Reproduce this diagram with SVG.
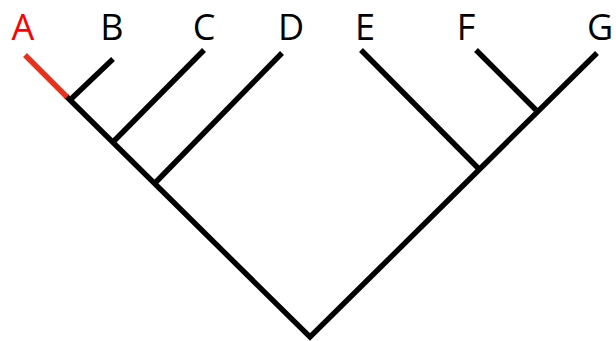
<svg xmlns="http://www.w3.org/2000/svg" width="616" height="341" viewBox="0 0 616 341">
<style>
.l{stroke:#000;stroke-width:5.4;fill:none;stroke-linecap:butt}
.t{font-family:"Open Sans","DejaVu Sans",sans-serif;font-size:36px;text-anchor:middle;fill:#000}
</style>
<rect width="616" height="341" fill="#fff"/>
<g id="connectors">
<polyline class="l" points="66,96 310,337 597,53"/>
<line class="l" x1="70" y1="100" x2="113" y2="59"/>
<line class="l" x1="113" y1="142" x2="204" y2="50"/>
<line class="l" x1="155" y1="183" x2="282" y2="53"/>
<line class="l" x1="361" y1="50" x2="478" y2="168"/>
<line class="l" x1="476" y1="50" x2="536" y2="110"/>
<line x1="25" y1="55" x2="67" y2="97" stroke="#e8301a" stroke-width="5.4"/>
</g>
<g id="A"><text class="t" x="23" y="40" style="fill:#f00">A</text></g>
<g id="B"><text class="t" x="112" y="40">B</text></g>
<g id="C"><text class="t" x="204" y="40">C</text></g>
<g id="D"><text class="t" x="291" y="40">D</text></g>
<g id="E"><text class="t" x="365" y="40">E</text></g>
<g id="F"><text class="t" x="466" y="40">F</text></g>
<g id="G"><text class="t" x="600" y="40">G</text></g>
</svg>
